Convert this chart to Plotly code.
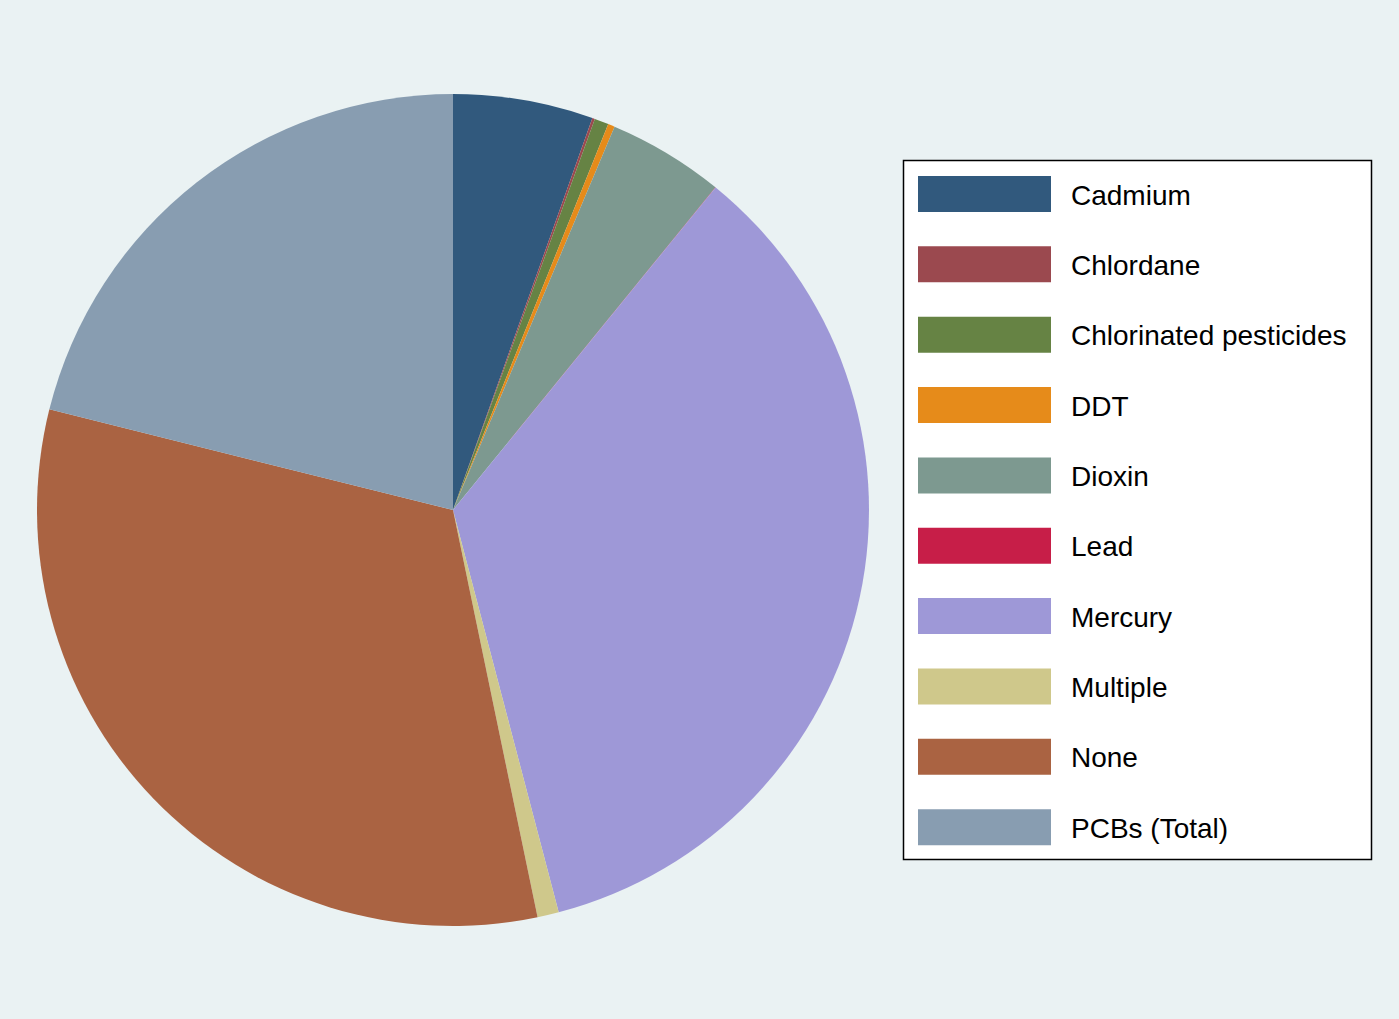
import plotly.graph_objects as go

labels = ["Cadmium", "Chlordane", "Chlorinated pesticides", "DDT", "Dioxin",
          "Lead", "Mercury", "Multiple", "None", "PCBs (Total)"]
values = [5.44, 0.10, 0.55, 0.26, 4.52, 0.01, 35.05, 0.83, 32.16, 21.12]
colors = ["#31597d", "#9b494f", "#668344", "#e68b1a", "#7d9990",
          "#c71e48", "#9e98d7", "#cfc88b", "#aa6342", "#889db1"]

W, H = 1399, 1019
cx, cy, r = 453, 510, 416

def px(x):
    return x / W

def py(y):
    return 1 - y / H

fig = go.Figure(go.Pie(
    labels=labels, values=values, sort=False, direction="clockwise", rotation=0,
    marker=dict(colors=colors, line=dict(width=0)),
    textinfo="none", hoverinfo="label+percent",
    domain=dict(x=[px(cx - r), px(cx + r)], y=[py(cy + r), py(cy - r)]),
    showlegend=False,
))

shapes = [dict(type="rect", xref="paper", yref="paper",
               x0=px(903.5), x1=px(1371.5), y0=py(859.5), y1=py(160.5),
               fillcolor="white", line=dict(color="black", width=1.5), layer="below")]
annotations = []
step = 70.35
for i, (lab, col) in enumerate(zip(labels, colors)):
    top = 176 + i * step
    shapes.append(dict(type="rect", xref="paper", yref="paper",
                       x0=px(918), x1=px(1051), y0=py(top + 36), y1=py(top),
                       fillcolor=col, line=dict(width=0)))
    annotations.append(dict(xref="paper", yref="paper", x=px(1069), y=py(top + 19),
                            text=lab, showarrow=False, xanchor="left", yanchor="middle",
                            font=dict(family="Liberation Sans, Arial, sans-serif", size=28, color="black")))

fig.update_layout(
    width=W, height=H, margin=dict(l=0, r=0, t=0, b=0),
    paper_bgcolor="#eaf2f3", plot_bgcolor="#eaf2f3",
    shapes=shapes, annotations=annotations,
)
fig.write_html("out.html", config={"displayModeBar": False},
               post_script="document.body.style.margin='0';document.body.style.padding='0';document.body.style.background='#eaf2f3';")
